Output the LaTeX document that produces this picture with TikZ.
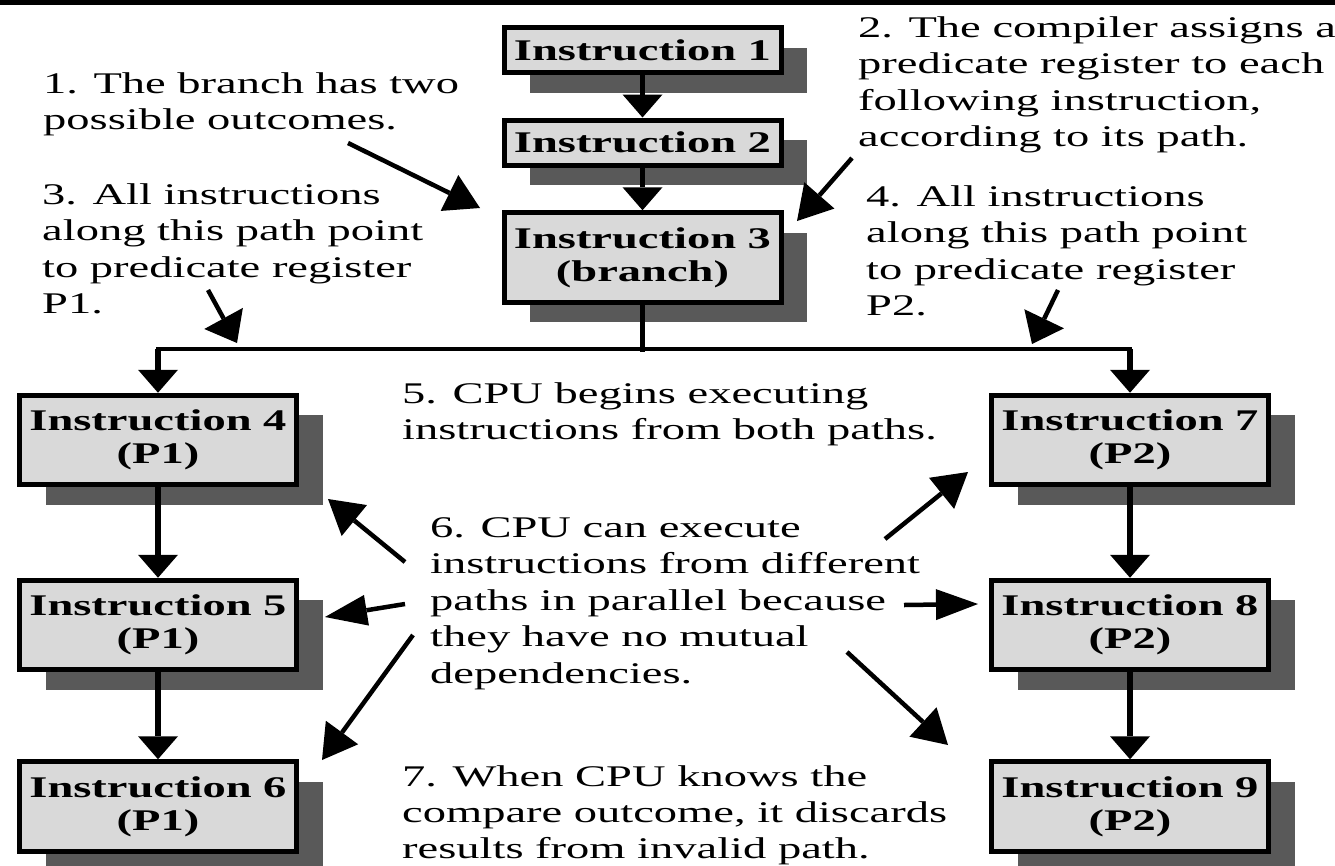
\documentclass[tikz,border=0pt]{standalone}
\usepackage{fontspec}
\setmainfont{Liberation Serif}[FakeStretch=1.55]
\usetikzlibrary{arrows.meta,shadows}
\definecolor{boxfill}{gray}{0.85}
\definecolor{boxshade}{gray}{0.35}
\begin{document}
\begin{tikzpicture}[x=1pt,y=-1pt,
  box/.style={draw=black, line width=5pt, fill=boxfill, minimum width=277pt,
    inner sep=0pt, align=center, font=\fontsize{30}{33}\selectfont\bfseries,
    general shadow={fill=boxshade, shadow xshift=26pt, shadow yshift=-20pt}},
  onebox/.style={box, minimum height=45pt},
  twobox/.style={box, minimum height=89.5pt},
  note/.style={inner sep=0pt, anchor=base west, font=\fontsize{30}{36.5}\selectfont},
  flow/.style={line width=5.5pt, -{Triangle[width=40pt,length=23pt,line width=0pt]}},
  stem/.style={line width=5.5pt, line cap=rect},
  bus/.style={line width=4pt, line cap=rect},
  pointer/.style={line width=4.5pt},
  hhead/.style={-{Triangle[width=31pt,length=42pt,line width=0pt]}},
  dhead/.style={-{Triangle[width=40pt,length=34pt,line width=0pt]}},
  shead/.style={-{Triangle[width=44pt,length=28pt,line width=0pt]}}
]
\useasboundingbox (0,0) rectangle (1335,865);
\fill[white] (0,0) rectangle (1335,865);
% rule along the top edge
\fill[black] (0,0) rectangle (1335,4.5);

% instruction boxes
\node[onebox] (b1) at (642.5,50)    {Instruction 1};
\node[onebox] (b2) at (642.5,142.5) {Instruction 2};
\node[twobox] (b3) at (642.5,257.5) {Instruction 3\\(branch)};
\node[twobox] (b4) at (158,440)     {Instruction 4\\(P1)};
\node[twobox] (b5) at (158,625)     {Instruction 5\\(P1)};
\node[twobox] (b6) at (158,806.5)   {Instruction 6\\(P1)};
\node[twobox] (b7) at (1130,440)    {Instruction 7\\(P2)};
\node[twobox] (b8) at (1130,625)    {Instruction 8\\(P2)};
\node[twobox] (b9) at (1130,806.5)  {Instruction 9\\(P2)};

% program flow
\draw[flow] (b1) -- (b2);
\draw[flow] (b2) -- (b3);
\coordinate (split) at (642.5,349);
\draw[stem] (b3.south) -- (split);
\draw[bus] (b4.north |- split) -- (b7.north |- split);
\draw[flow] (b4.north |- split) -- (b4.north);
\draw[flow] (b7.north |- split) -- (b7.north);
\draw[flow] (b4) -- (b5);
\draw[flow] (b5) -- (b6);
\draw[flow] (b7) -- (b8);
\draw[flow] (b8) -- (b9);

% explanatory notes
\node[note] (t1) at (43,93) {\begin{tabular}[t]{@{}l@{}}1. The branch has two\\possible outcomes.\end{tabular}};
\node[note] (t2) at (858,37) {\begin{tabular}[t]{@{}l@{}}2. The compiler assigns a\\predicate register to each\\following instruction,\\according to its path.\end{tabular}};
\node[note] (t3) at (42,204) {\begin{tabular}[t]{@{}l@{}}3. All instructions\\along this path point\\to predicate register\\P1.\end{tabular}};
\node[note] (t4) at (866,206) {\begin{tabular}[t]{@{}l@{}}4. All instructions\\along this path point\\to predicate register\\P2.\end{tabular}};
\node[note] (t5) at (402,403) {\begin{tabular}[t]{@{}l@{}}5. CPU begins executing\\instructions from both paths.\end{tabular}};
\node[note] (t6) at (430,537) {\begin{tabular}[t]{@{}l@{}}6. CPU can execute\\instructions from different\\paths in parallel because\\they have no mutual\\dependencies.\end{tabular}};
\node[note, font=\fontsize{30}{36}\selectfont] (t7) at (402,786) {\begin{tabular}[t]{@{}l@{}}7. When CPU knows the\\compare outcome, it discards\\results from invalid path.\end{tabular}};

% pointers from the notes
\coordinate (p1a) at (348,143);  \coordinate (p1b) at (480,208);
\coordinate (p2a) at (852,158);  \coordinate (p2b) at (797,221);
\coordinate (p3a) at (208,290);  \coordinate (p3b) at (237,343);
\coordinate (p4a) at (1058,290); \coordinate (p4b) at (1032,344);
\coordinate (p5a) at (405,562);  \coordinate (p5b) at (328,499);
\coordinate (p6a) at (405,604);  \coordinate (p6b) at (325,617);
\coordinate (p7a) at (413,635);  \coordinate (p7b) at (322,760);
\coordinate (p8a) at (885,539);  \coordinate (p8b) at (968,472);
\coordinate (p9a) at (904,605);  \coordinate (p9b) at (978,604);
\coordinate (p10a) at (847,652); \coordinate (p10b) at (948,745);
\draw[pointer,dhead] (p1a) -- (p1b);
\draw[pointer,dhead] (p2a) -- (p2b);
\draw[pointer,shead] (p3a) -- (p3b);
\draw[pointer,shead] (p4a) -- (p4b);
\draw[pointer,dhead] (p5a) -- (p5b);
\draw[pointer,hhead] (p6a) -- (p6b);
\draw[pointer,dhead] (p7a) -- (p7b);
\draw[pointer,dhead] (p8a) -- (p8b);
\draw[pointer,hhead] (p9a) -- (p9b);
\draw[pointer,dhead] (p10a) -- (p10b);
\end{tikzpicture}
\end{document}
